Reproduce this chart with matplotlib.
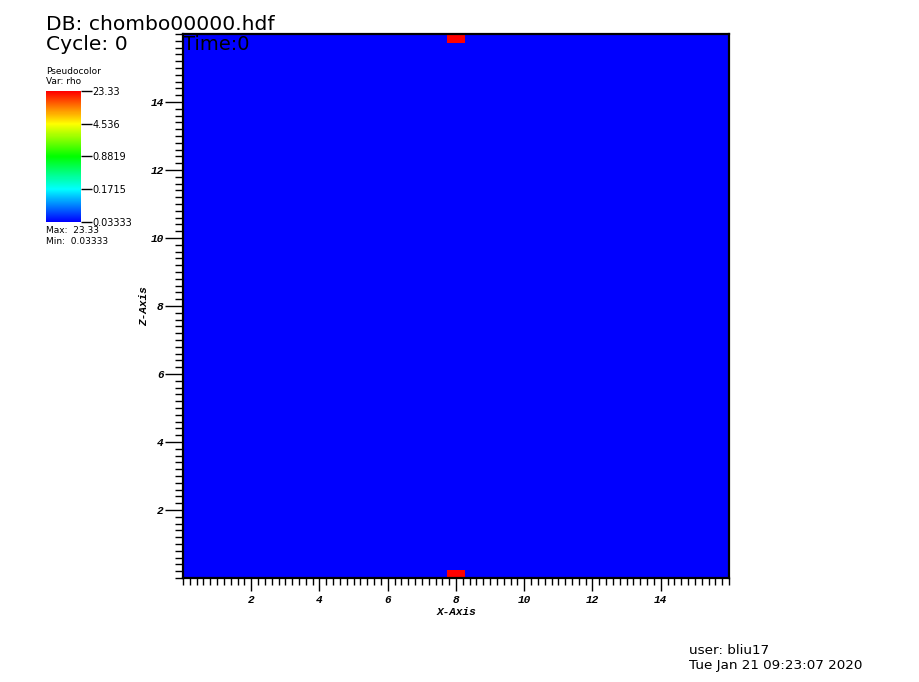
import numpy as np
import matplotlib
matplotlib.use("Agg")
import matplotlib.pyplot as plt
from matplotlib.colors import LinearSegmentedColormap, LogNorm
from matplotlib.ticker import MultipleLocator, FixedLocator

# ---- data ----
n_cells = 64
domain = [0.0, 16.0]
rho_min = 0.03333
rho_max = 23.33
hot_x_cells = [31, 32]          # cell indices along X with high rho
hot_z_cells = [0, 63]           # cell indices along Z with high rho
cbar_ticks = [0.03333, 0.1715, 0.8819, 4.536, 23.33]
cbar_ticklabels = ["0.03333", "0.1715", "0.8819", "4.536", "23.33"]
x_major = [2, 4, 6, 8, 10, 12, 14]
title_db = "DB: chombo00000.hdf"
title_cycle = "Cycle: 0"
title_time = "Time:0"
user_text = "user: bliu17"
date_text = "Tue Jan 21 09:23:07 2020"

rho = np.full((n_cells, n_cells), rho_min)
for zi in hot_z_cells:
    for xi in hot_x_cells:
        rho[zi, xi] = rho_max

edges = np.linspace(domain[0], domain[1], n_cells + 1)

cmap = LinearSegmentedColormap.from_list(
    "visit_hot",
    [(0.0, (0, 0, 1)), (0.25, (0, 1, 1)), (0.5, (0, 1, 0)),
     (0.75, (1, 1, 0)), (1.0, (1, 0, 0))])
norm = LogNorm(vmin=rho_min, vmax=rho_max)

W, H = 920, 682
fig = plt.figure(figsize=(W / 100, H / 100), dpi=100)

ax = fig.add_axes([183 / W, (H - 578) / H, 546 / W, 544 / H])
ax.pcolormesh(edges, edges, rho, cmap=cmap, norm=norm, shading="flat")
ax.set_xlim(domain)
ax.set_ylim(domain)

tick_font = dict(family="Liberation Mono", weight="bold", style="italic", size=8)
ax.xaxis.set_major_locator(FixedLocator(x_major))
ax.yaxis.set_major_locator(FixedLocator(x_major))
ax.xaxis.set_minor_locator(MultipleLocator(0.2))
ax.yaxis.set_minor_locator(MultipleLocator(0.2))
ax.tick_params(axis="x", which="major", direction="out", length=9, width=1, pad=3)
ax.tick_params(axis="x", which="minor", direction="out", length=5, width=1)
ax.tick_params(axis="y", which="major", direction="out", length=13, width=1, pad=1)
ax.tick_params(axis="y", which="minor", direction="out", length=6, width=1)
ax.set_xticklabels([str(v) for v in x_major], fontdict=tick_font)
ax.set_yticklabels([str(v) for v in x_major], fontdict=tick_font)
for sp in ax.spines.values():
    sp.set_linewidth(1.6)

ax.set_xlabel("X-Axis", fontdict=tick_font)
ax.set_ylabel("Z-Axis", fontdict=tick_font)
ax.xaxis.set_label_coords(0.5, -(612 - 578) / 544, transform=ax.transAxes)
ax.yaxis.set_label_coords(-(183 - 144) / 546, 0.5, transform=ax.transAxes)
ax.xaxis.label.set_va("center")
ax.yaxis.label.set_va("center")

# colorbar
cax = fig.add_axes([46 / W, (H - 222) / H, 35 / W, 131 / H])
cb = fig.colorbar(matplotlib.cm.ScalarMappable(norm=norm, cmap=cmap), cax=cax)
cb.outline.set_visible(False)
cb.set_ticks(cbar_ticks)
cb.set_ticklabels(cbar_ticklabels)
cax.minorticks_off()
cax.yaxis.set_minor_locator(FixedLocator([]))
cax.tick_params(which="major", direction="out", length=8, width=1, pad=0, labelsize=7)

sans = "DejaVu Sans"
fig.text(46 / W, 1 - 72 / H, "Pseudocolor", fontsize=6.5, family=sans, va="center")
fig.text(46 / W, 1 - 82 / H, "Var: rho", fontsize=6.5, family=sans, va="center")
fig.text(46 / W, 1 - 231 / H, "Max:  23.33", fontsize=6.5, family=sans, va="center")
fig.text(46 / W, 1 - 241 / H, "Min:  0.03333", fontsize=6.5, family=sans, va="center")

fig.text(46 / W, 1 - 24 / H, title_db, fontsize=14.6, family=sans, va="center")
fig.text(46 / W, 1 - 45 / H, title_cycle, fontsize=14.6, family=sans, va="center")
fig.text(183 / W, 1 - 45 / H, title_time, fontsize=14, family=sans, va="center", zorder=10)

fig.text(689 / W, 1 - 650 / H, user_text, fontsize=9.7, family=sans, va="center")
fig.text(689 / W, 1 - 665 / H, date_text, fontsize=9.7, family=sans, va="center")

fig.savefig("out.png", dpi=100)
